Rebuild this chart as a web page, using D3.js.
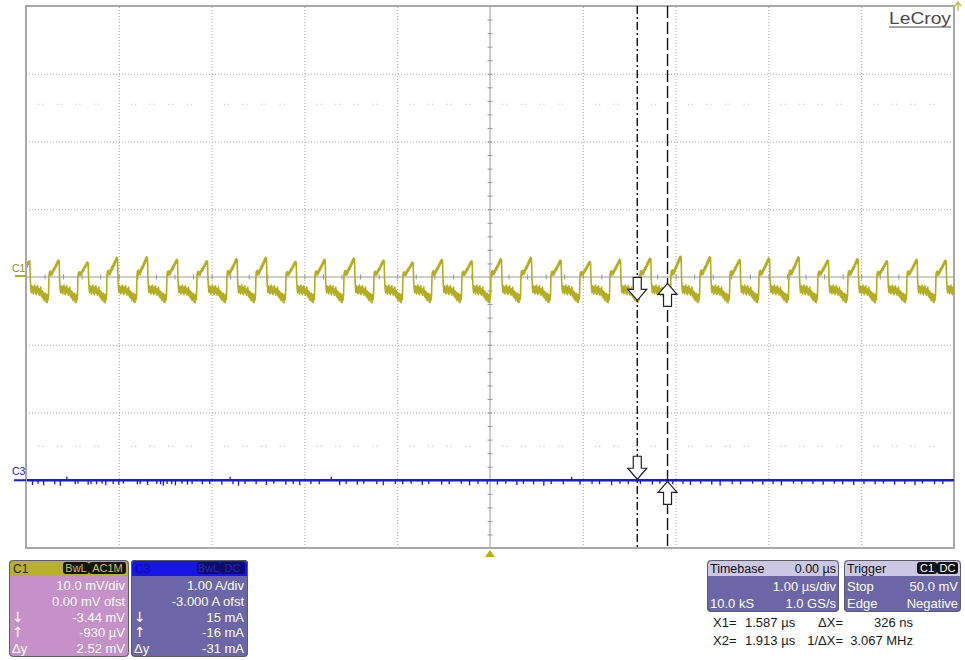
<!DOCTYPE html>
<html>
<head>
<meta charset="utf-8">
<script src="https://cdn.jsdelivr.net/npm/d3@7"></script>
<style>
  html, body { margin: 0; padding: 0; background: #fff; }
  svg { display: block; font-family: "Liberation Sans", Arial, sans-serif; }
</style>
</head>
<body>
<svg id="scope" width="965" height="660"></svg>
<script>
// ---- acquisition settings ----
const timeDomain = [-5, 5];          // µs, 1.00 µs/div, trigger at centre
const divDomain = [4, -4];           // vertical divisions, top to bottom
const c1VoltsPerDiv = 10;            // mV/div
const c3AmpsPerDiv = 1000;           // mA/div
const c3OffsetDiv = -3;              // -3.000 A offset at 1 A/div

// ---- cursors ----
const cursorTimes = [1.587, 1.913];  // µs (X1, X2)
const c1CursorVals = [-3.44, -0.93]; // mV at X1, X2
const c3CursorVals = [15, -16];      // mA at X1, X2

// ---- C1 waveform: start time of every switching cycle (µs) ----
const riseTimes = [-5.07, -4.752, -4.440, -4.127, -3.804, -3.481, -3.157, -2.834, -2.522,
  -2.198, -1.886, -1.573, -1.250, -0.938, -0.625, -0.302, 0.011, 0.334, 0.657, 0.970,
  1.293, 1.616, 1.950, 2.263, 2.586, 2.899, 3.222, 3.534, 3.858, 4.170, 4.494, 4.806];
// peak of the ramp in each cycle (mV)
const cyclePeaks = [2.4, 2.5, 2.2, 2.9, 3.0, 2.6, 2.4, 2.7, 2.9, 2.3, 2.6, 2.8, 2.5, 2.2,
  2.6, 2.4, 2.7, 2.9, 2.5, 2.3, 2.6, 2.8, 3.1, 3.0, 2.6, 2.8, 3.0, 2.5, 2.7, 2.4, 2.6, 2.5];
// one cycle of C1 (mV), 60 samples; the first ones form the rising ramp
const cycleShape = [0.3, 0.8, 0.2, 0.9, 0.4, 0.7, 0.3, 1.0, 0.6, 1.3, 0.9, 1.5, 1.1, 1.8,
  1.4, 2.1, 1.7, 2.4, 2.0, 2.6, 2.2, 2.5,
  -0.4, -1.7, -2.3, -1.3, -2.2, -1.5, -2.5, -1.4, -2.1, -1.2, -2.4, -1.6, -2.6, -1.5,
  -2.2, -1.3, -2.4, -1.7, -2.7, -1.8, -2.4, -1.5, -2.8, -2.0, -3.0, -2.1, -3.2, -2.3,
  -3.5, -2.5, -3.3, -2.4, -3.7, -2.7, -3.8, -2.6, -3.4, -2.8];
const rampSamples = 22;

// ---- C3 waveform: short glitches on a flat current trace (µs, mA) ----
const c3Spikes = [[-4.93,-70],[-4.87,-50],[-4.81,-75],[-4.69,-60],[-4.63,-80],[-4.56,55],
  [-4.47,-60],[-4.44,-50],[-4.33,-65],[-4.30,-55],[-4.24,-60],[-4.18,-50],[-4.14,-75],
  [-4.06,-55],[-4.00,-65],[-3.95,-50],[-3.80,-60],[-3.77,-55],[-3.69,-70],[-3.59,-55],
  [-3.55,-60],[-3.52,-80],[-3.48,-55],[-3.43,-60],[-3.39,-75],[-3.32,-50],[-3.26,-65],
  [-3.21,-55],[-3.10,-60],[-3.02,-55],[-2.89,-65],[-2.80,50],[-2.77,-60],[-2.71,-80],
  [-2.64,-55],[-2.52,-60],[-2.41,-70],[-2.33,-50],[-2.20,-65],[-2.12,-55],[-2.05,-75],
  [-1.93,-55],[-1.84,-60],[-1.71,50],[-1.62,-70],[-1.55,-55],[-1.43,-65],[-1.36,-50],
  [-1.22,-60],[-1.15,-75],[-1.02,-55],[-0.94,-60],[-0.85,-50],[-0.73,-70],[-0.66,-55],
  [-0.52,-65],[-0.44,-60],[-0.31,-50],[-0.22,-75],[-0.13,-55],[-0.03,-60],[0.08,-65],
  [0.17,-50],[0.29,-70],[0.36,-55],[0.47,-60],[0.58,-80],[0.66,-55],[0.79,-60],[0.88,50],
  [0.97,-65],[1.10,-55],[1.18,-60],[1.31,-75],[1.40,-50],[1.49,-60],[1.62,-55],[1.75,-65],
  [1.83,-50],[1.97,-60],[2.08,-55],[2.16,-70],[2.27,-50],[2.39,-65],[2.48,-80],[2.61,-55],
  [2.70,-60],[2.83,-50],[2.94,-65],[3.05,-55],[3.14,-75],[3.27,-50],[3.36,-60],[3.48,-55],
  [3.59,-65],[3.71,-50],[3.80,-60],[3.92,-70],[4.03,-55],[4.15,-60],[4.24,-50],[4.36,-65],
  [4.47,-55],[4.58,-75],[4.66,-50],[4.79,-60],[4.88,-55]];

// ---- faint marks along two graticule rows (fraction of a division) ----
const ghostOffsets = [0.16, 0.36, 0.56, 0.76];
const ghostRows = [2.55, -2.5];      // divisions

// ---- readout texts ----
const c1Rows = [["", "10.0 mV/div"], ["", "0.00 mV ofst"], ["\u2193", "-3.44 mV"], ["\u2191", "-930 \u00b5V"], ["\u0394y", "2.52 mV"]];
const c3Rows = [["", "1.00 A/div"], ["", "-3.000 A ofst"], ["\u2193", "15 mA"], ["\u2191", "-16 mA"], ["\u0394y", "-31 mA"]];
const timebaseRows = [["", "1.00 \u00b5s/div"], ["10.0 kS", "1.0 GS/s"]];
const triggerRows = [["Stop", "50.0 mV"], ["Edge", "Negative"]];
const cursorLines = [["X1=", "1.587 \u00b5s", "\u0394X=", "326 ns"], ["X2=", "1.913 \u00b5s", "1/\u0394X=", "3.067 MHz"]];

// ---- colours ----
const C1_COLOR = "#b4ad1f";
const C3_COLOR = "#1b1bd6";

const svg = d3.select("#scope");
const plot = { left: 26, right: 954, top: 6, bottom: 548 };

const x = d3.scaleLinear().domain(timeDomain).range([plot.left, plot.right]);
const yDiv = d3.scaleLinear().domain(divDomain).range([plot.top, plot.bottom]);
const yC1 = mv => yDiv(mv / c1VoltsPerDiv);
const yC3 = ma => yDiv(ma / c3AmpsPerDiv + c3OffsetDiv);

// ---- graticule ----
const grid = svg.append("g");
grid.append("g")
  .attr("transform", `translate(0,${plot.bottom})`)
  .call(d3.axisBottom(x).tickValues(d3.range(-4, 5).filter(d => d !== 0))
    .tickSize(-(plot.bottom - plot.top)).tickFormat(""))
  .call(g => g.select(".domain").remove())
  .call(g => g.selectAll("line").attr("stroke", "#a4a4a4").attr("stroke-dasharray", "1,2"));
grid.append("g")
  .attr("transform", `translate(${plot.left},0)`)
  .call(d3.axisLeft(yDiv).tickValues([-3, -2, -1, 1, 2, 3])
    .tickSize(-(plot.right - plot.left)).tickFormat(""))
  .call(g => g.select(".domain").remove())
  .call(g => g.selectAll("line").attr("stroke", "#a4a4a4").attr("stroke-dasharray", "1,2"));

// faint dotted marks
ghostRows.forEach(r => {
  d3.range(-5, 5).forEach(d => {
    ghostOffsets.forEach(o => {
      [-2, 2].forEach(dx => {
        grid.append("circle")
          .attr("cx", x(d + o) + dx).attr("cy", yDiv(r))
          .attr("r", 0.8).attr("fill", "#d2d2d2");
      });
    });
  });
});

// centre cross with minor ticks
const minorT = d3.range(-25, 26).map(i => i / 5).filter(d => d > -5 && d < 5 && d !== 0);
const minorV = d3.range(-20, 21).map(i => i / 5).filter(d => d > -4 && d < 4 && d !== 0);
grid.append("g")
  .attr("transform", `translate(0,${yDiv(0) - 2.5})`)
  .call(d3.axisBottom(x).tickValues(minorT).tickSize(5).tickFormat("").tickSizeOuter(0))
  .call(g => g.select(".domain").remove())
  .call(g => g.selectAll("line").attr("stroke", "#959595"));
grid.append("g")
  .attr("transform", `translate(${x(0) - 2.5},0)`)
  .call(d3.axisRight(yDiv).tickValues(minorV).tickSize(5).tickFormat("").tickSizeOuter(0))
  .call(g => g.select(".domain").remove())
  .call(g => g.selectAll("line").attr("stroke", "#959595"));
grid.append("line").attr("x1", plot.left).attr("x2", plot.right)
  .attr("y1", yDiv(0)).attr("y2", yDiv(0)).attr("stroke", "#9a9a9a");
grid.append("line").attr("x1", x(0)).attr("x2", x(0))
  .attr("y1", plot.top).attr("y2", plot.bottom).attr("stroke", "#9a9a9a");

// frame
svg.append("rect")
  .attr("x", plot.left).attr("y", plot.top)
  .attr("width", plot.right - plot.left).attr("height", plot.bottom - plot.top)
  .attr("fill", "none").attr("stroke", "#a8a8a8").attr("stroke-width", 2);

// clip for traces
svg.append("clipPath").attr("id", "plotClip")
  .append("rect").attr("x", plot.left + 1).attr("y", plot.top)
  .attr("width", plot.right - plot.left - 1).attr("height", plot.bottom - plot.top);

// ---- C1 trace ----
const shapePeak = d3.max(cycleShape.slice(0, rampSamples));
const c1Points = [];
riseTimes.forEach((t0, k) => {
  const t1 = k + 1 < riseTimes.length ? riseTimes[k + 1] : t0 + (t0 - riseTimes[k - 1]);
  cycleShape.forEach((v, i) => {
    const t = t0 + (t1 - t0) * i / cycleShape.length;
    const val = i < rampSamples ? v * cyclePeaks[k] / shapePeak : v;
    c1Points.push([t, val]);
  });
});
const c1Line = d3.line().x(d => x(d[0])).y(d => yC1(d[1]));
svg.append("path")
  .datum(c1Points)
  .attr("clip-path", "url(#plotClip)")
  .attr("d", c1Line)
  .attr("fill", "none").attr("stroke", C1_COLOR)
  .attr("stroke-width", 1.6).attr("stroke-linejoin", "round");

// ---- C3 trace ----
const c3 = svg.append("g").attr("clip-path", "url(#plotClip)");
c3.append("line")
  .attr("x1", x(timeDomain[0])).attr("x2", x(timeDomain[1]))
  .attr("y1", yC3(0)).attr("y2", yC3(0))
  .attr("stroke", C3_COLOR).attr("stroke-width", 2.6);
c3.selectAll("line.spike").data(c3Spikes).join("line")
  .attr("class", "spike")
  .attr("x1", d => x(d[0])).attr("x2", d => x(d[0]))
  .attr("y1", yC3(0)).attr("y2", d => yC3(d[1]))
  .attr("stroke", C3_COLOR).attr("stroke-width", 1.3);

// ---- channel markers ----
svg.append("line").attr("x1", 15).attr("x2", plot.left).attr("y1", yC1(0) - 1).attr("y2", yC1(0) - 1)
  .attr("stroke", C1_COLOR).attr("stroke-width", 2);
svg.append("text").attr("x", 12).attr("y", yC1(0) - 5).text("C1")
  .attr("font-size", 10.5).attr("fill", "#8f8a22");
svg.append("line").attr("x1", 14).attr("x2", plot.left).attr("y1", yC3(0)).attr("y2", yC3(0))
  .attr("stroke", C3_COLOR).attr("stroke-width", 2);
svg.append("text").attr("x", 12).attr("y", yC3(0) - 5).text("C3")
  .attr("font-size", 10.5).attr("fill", "#20209a");

// trigger position marker and off-screen trigger level
svg.append("path")
  .attr("d", `M${x(0) - 5},557 L${x(0)},550 L${x(0) + 5},557 Z`)
  .attr("fill", C1_COLOR);
svg.append("path")
  .attr("d", "M958,11 L958,3 M955,6 L958,2 L961,6")
  .attr("fill", "none").attr("stroke", "#c2ba2c").attr("stroke-width", 1.3);

// LeCroy logo
svg.append("text").attr("x", 889).attr("y", 24).text("LeCroy")
  .attr("font-size", 17).attr("fill", "#4a4a4a").attr("textLength", 62)
  .attr("lengthAdjust", "spacingAndGlyphs");
svg.append("line").attr("x1", 889).attr("x2", 951).attr("y1", 27).attr("y2", 27)
  .attr("stroke", "#4a4a4a").attr("stroke-width", 1.2);

// ---- cursors ----
const cursorDash = ["8,3,2,3", "12,4"];
cursorTimes.forEach((t, i) => {
  svg.append("line")
    .attr("x1", x(t)).attr("x2", x(t)).attr("y1", plot.top).attr("y2", plot.bottom)
    .attr("stroke", "#111").attr("stroke-width", 1.4)
    .attr("stroke-dasharray", cursorDash[i]);
});
// hollow arrows: tip at the value, pointing down for X1, up for X2
function arrow(cx, tipY, dir) {
  const p = [[-4, -23], [4, -23], [4, -11], [9.5, -11], [0, 0], [-9.5, -11], [-4, -11]]
    .map(([a, b]) => [cx + a, tipY + dir * b]);
  svg.append("path")
    .attr("d", "M" + p.map(q => q.join(",")).join("L") + "Z")
    .attr("fill", "#fff").attr("stroke", "#222").attr("stroke-width", 1.2);
}
arrow(x(cursorTimes[0]), yC1(c1CursorVals[0]), 1);
arrow(x(cursorTimes[1]), yC1(c1CursorVals[1]), -1);
arrow(x(cursorTimes[0]), yC3(c3CursorVals[0]), 1);
arrow(x(cursorTimes[1]), yC3(c3CursorVals[1]), -1);

// ---- readout boxes ----
function box(bx, by, bw, bh, headColor, bodyColor) {
  const g = svg.append("g");
  g.append("rect").attr("x", bx).attr("y", by).attr("width", bw).attr("height", bh)
    .attr("rx", 4).attr("fill", bodyColor);
  g.append("rect").attr("x", bx).attr("y", by).attr("width", bw).attr("height", 16)
    .attr("rx", 4).attr("fill", headColor);
  g.append("rect").attr("x", bx).attr("y", by + 8).attr("width", bw).attr("height", 8)
    .attr("fill", headColor);
  g.append("rect").attr("x", bx + 0.5).attr("y", by + 0.5).attr("width", bw - 1).attr("height", bh - 1)
    .attr("rx", 4).attr("fill", "none").attr("stroke", "#5a5a6a").attr("stroke-width", 1);
  return g;
}
function badge(g, bx, by, bw, label, bg, fg) {
  g.append("rect").attr("x", bx).attr("y", by).attr("width", bw).attr("height", 12)
    .attr("rx", 3).attr("fill", bg);
  g.append("text").attr("x", bx + bw / 2).attr("y", by + 10).attr("text-anchor", "middle")
    .attr("font-size", 11).attr("fill", fg).text(label);
}
function rows(g, lx, rx, firstBase, step, data, fill) {
  data.forEach((r, i) => {
    const isArrow = r[0] === "\u2193" || r[0] === "\u2191";
    g.append("text").attr("x", lx).attr("y", firstBase + i * step)
      .attr("font-size", isArrow ? 14 : 13)
      .attr("font-family", isArrow ? "DejaVu Sans" : null)
      .attr("fill", fill).text(r[0]);
    g.append("text").attr("x", rx).attr("y", firstBase + i * step).attr("font-size", 13)
      .attr("text-anchor", "end").attr("fill", fill).text(r[1]);
  });
}

const ROW0 = 590, STEP = 15.8;
const g1 = box(9, 560, 120, 97, "#b9b12c", "#c690c8");
g1.append("text").attr("x", 13).attr("y", 573).attr("font-size", 12).attr("fill", "#2a2800").text("C1");
badge(g1, 63, 562, 26, "BwL", "#141400", "#c9c24a");
badge(g1, 89, 562, 37, "AC1M", "#141400", "#c9c24a");
rows(g1, 12, 125, ROW0, STEP, c1Rows, "#fff");

const g3 = box(131, 560, 117, 97, "#1515e8", "#6c66a8");
g3.append("text").attr("x", 135).attr("y", 573).attr("font-size", 12).attr("fill", "#0d0d9a").text("C3");
badge(g3, 197, 562, 23, "BwL", "#0c0c70", "#2626c8");
badge(g3, 220, 562, 25, "DC", "#0c0c70", "#2626c8");
rows(g3, 134, 244, ROW0, STEP, c3Rows, "#fff");

const gt = box(707, 560, 132, 52, "#ccc8e4", "#6c66a8");
gt.append("text").attr("x", 710).attr("y", 573).attr("font-size", 12.5).attr("fill", "#111").text("Timebase");
gt.append("text").attr("x", 836).attr("y", 573).attr("font-size", 12.5).attr("fill", "#111")
  .attr("text-anchor", "end").text("0.00 \u00b5s");
rows(gt, 710, 836, 591, 16.5, timebaseRows, "#fff");

const gg = box(844, 560, 117, 52, "#ccc8e4", "#6c66a8");
gg.append("text").attr("x", 847).attr("y", 573).attr("font-size", 12.5).attr("fill", "#111").text("Trigger");
badge(gg, 917, 562, 20, "C1", "#111", "#fff");
badge(gg, 937, 562, 21, "DC", "#111", "#fff");
rows(gg, 847, 958, 591, 16.5, triggerRows, "#fff");

cursorLines.forEach((r, i) => {
  const yb = 627 + i * 18;
  svg.append("text").attr("x", 713).attr("y", yb).attr("font-size", 13).attr("fill", "#1a1a1a").text(r[0]);
  svg.append("text").attr("x", 745).attr("y", yb).attr("font-size", 13).attr("fill", "#1a1a1a").text(r[1]);
  svg.append("text").attr("x", 843).attr("y", yb).attr("font-size", 13).attr("fill", "#1a1a1a")
    .attr("text-anchor", "end").text(r[2]);
  svg.append("text").attr("x", 913).attr("y", yb).attr("font-size", 13).attr("fill", "#1a1a1a")
    .attr("text-anchor", "end").text(r[3]);
});
</script>
</body>
</html>
